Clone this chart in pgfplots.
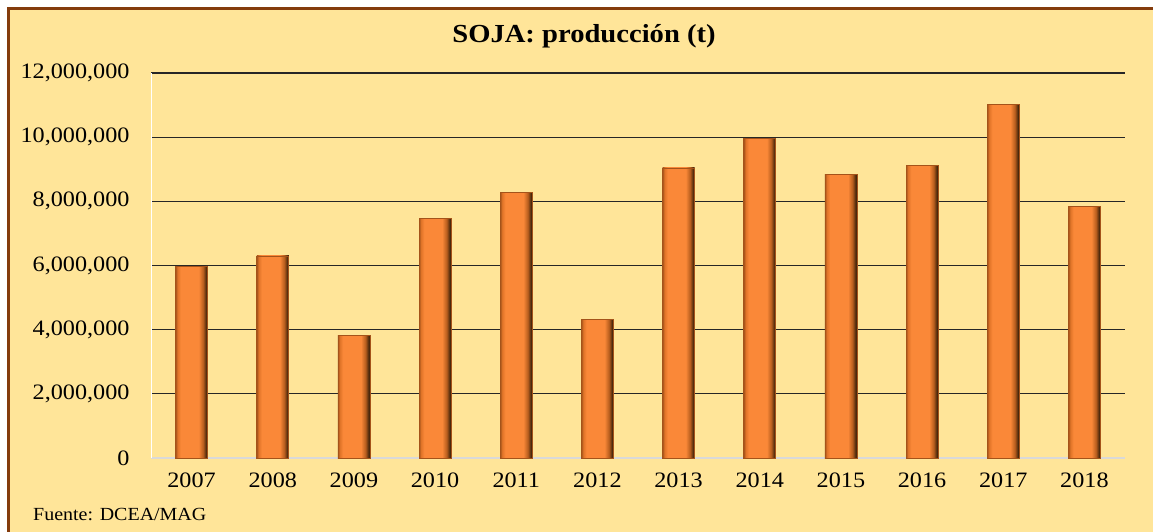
\documentclass[border=0pt]{standalone}
\usepackage{fontspec}
\setmainfont[FakeStretch=1.1]{Liberation Serif}
\newfontfamily\srcfont[FakeStretch=1.08]{Liberation Serif}
\usepackage{pgfplots}
\pgfplotsset{compat=1.18}
\definecolor{bgy}{HTML}{FFE599}
\definecolor{frame}{HTML}{843C0C}
\definecolor{og}{HTML}{FA8838}
\definecolor{ogl}{HTML}{E07428}
\definecolor{ogd}{HTML}{4A280C}
\definecolor{ogm}{HTML}{A4531A}
\definecolor{ogr}{HTML}{B85E1E}
\pgfdeclarehorizontalshading{barshade}{100bp}{color(0bp)=(ogm); color(25bp)=(ogm); color(28bp)=(ogl); color(33bp)=(og); color(61bp)=(og); color(68bp)=(ogr); color(73bp)=(ogd); color(75bp)=(ogd); color(100bp)=(ogd)}
\pgfplotsset{sojabar/.style={ybar, bar width=32pt, bar shift=0pt, draw=ogm, line width=0.6pt, shading=barshade}}
\begin{document}
\begin{tikzpicture}[x=1pt,y=1pt]
\useasboundingbox (0,0) rectangle (1153,531);
\fill[white] (0,0) rectangle (1153,531);
\fill[bgy] (8.5,-20) rectangle (1180,522.5);
\draw[frame, line width=3pt] (8.5,-20) rectangle (1180,522.5);
\begin{axis}[
  at={(151pt,73pt)}, anchor=south west,
  scale only axis, width=974pt, height=385pt,
  xmin=-0.5, xmax=11.5, ymin=0, ymax=12000000,
  axis x line*=bottom, axis y line*=left,
  x axis line style={draw=black!15, line width=1.5pt},
  y axis line style={draw=white, line width=1pt},
  xtick={0,1,2,3,4,5,6,7,8,9,10,11},
  xticklabels={2007,2008,2009,2010,2011,2012,2013,2014,2015,2016,2017,2018},
  ytick={2000000,4000000,6000000,8000000,10000000,12000000},
  extra y ticks={0}, extra y tick style={grid=none},
  ymajorgrids, grid style={draw=black!85, line width=1.3pt},
  major tick length=0pt,
  scaled y ticks=false,
  /pgf/number format/.cd, fixed, 1000 sep={,}, assume math mode=true,
  /pgfplots/.cd,
  ticklabel style={font=\fontsize{22}{24}\selectfont, text=black},
  yticklabel style={xshift=-18pt},
  xticklabel style={yshift=-11pt},
]
\addplot[sojabar] coordinates {(0,5980000)};
\addplot[sojabar] coordinates {(1,6300000)};
\addplot[sojabar] coordinates {(2,3830000)};
\addplot[sojabar] coordinates {(3,7460000)};
\addplot[sojabar] coordinates {(4,8290000)};
\addplot[sojabar] coordinates {(5,4330000)};
\addplot[sojabar] coordinates {(6,9040000)};
\addplot[sojabar] coordinates {(7,9970000)};
\addplot[sojabar] coordinates {(8,8850000)};
\addplot[sojabar] coordinates {(9,9130000)};
\addplot[sojabar] coordinates {(10,11030000)};
\addplot[sojabar] coordinates {(11,7850000)};
\end{axis}
\node[font=\bfseries\fontsize{26}{30}\selectfont, anchor=base] at (584,488) {SOJA: producción (t)};
\node[font=\srcfont\fontsize{18.5}{20}\selectfont, anchor=base west, inner sep=0pt] at (33,11) {Fuente: DCEA/MAG};
\end{tikzpicture}
\end{document}
